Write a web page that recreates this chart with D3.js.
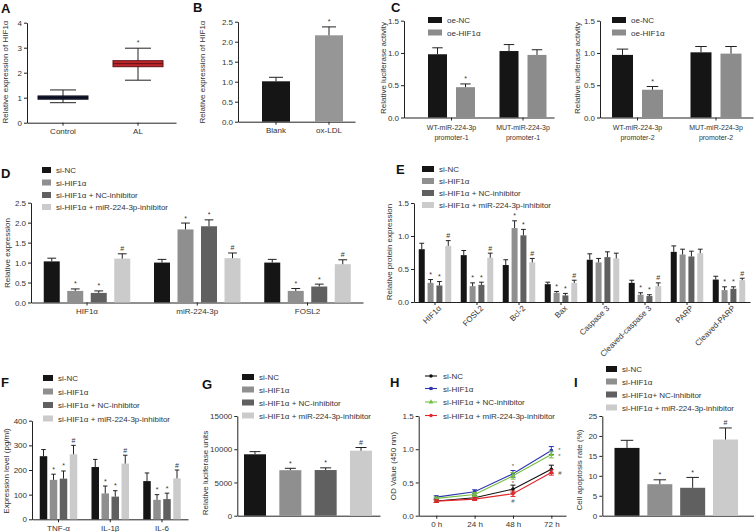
<!DOCTYPE html>
<html><head><meta charset="utf-8">
<script src="https://cdn.jsdelivr.net/npm/d3@7"></script>
<style>body{margin:0;background:#fff}svg{display:block}</style>
</head><body>
<script>
const FONT = "Liberation Sans, Arial, Helvetica, sans-serif";

// ---------------- DATA ----------------
// Panel A (box plot)
const aGroups = ["Control", "AL"];
const aMin = [0.80, 1.70];
const aQ1 = [0.94, 2.24];
const aMed = [1.00, 2.36];
const aQ3 = [1.07, 2.48];
const aMax = [1.31, 2.98];
const aMarks = ["", "*"];
const aTicks = [0, 1, 2, 3, 4];

// Panel B
const bCats = ["Blank", "ox-LDL"];
const bMeans = [1.01, 2.16];
const bErr = [0.10, 0.21];
const bMarks = ["", "*"];
const bTicks = [0, 0.5, 1.0, 1.5, 2.0, 2.5];

// Panel C
const cSeries = ["oe-NC", "oe-HIF1α"];
const c1Groups = ["WT-miR-224-3p|promoter-1", "MUT-miR-224-3p|promoter-1"];
const c2Groups = ["WT-miR-224-3p|promoter-2", "MUT-miR-224-3p|promoter-2"];
const c1NC = [0.98, 1.03];  const c1NCErr = [0.10, 0.10];
const c1HIF = [0.47, 0.97]; const c1HIFErr = [0.05, 0.08];
const c2NC = [0.97, 1.01];  const c2NCErr = [0.09, 0.09];
const c2HIF = [0.43, 0.99]; const c2HIFErr = [0.05, 0.11];
const c1Marks = [["", ""], ["*", ""]];
const c2Marks = [["", ""], ["*", ""]];
const cTicks = [0, 0.5, 1.0, 1.5];

// Four-group series names
const siSeries = ["si-NC", "si-HIF1α", "si-HIF1α + NC-inhibitor", "si-HIF1α + miR-224-3p-inhibitor"];
const iSeries = ["si-NC", "si-HIF1α", "si-HIF1α+ NC-inhibitor", "si-HIF1α + miR-224-3p-inhibitor"];

// Panel D
const dGroups = ["HIF1α", "miR-224-3p", "FOSL2"];
const dNC = [1.03, 1.00, 1.00];     const dNCErr = [0.08, 0.08, 0.08];
const dHIF = [0.29, 1.83, 0.29];    const dHIFErr = [0.05, 0.16, 0.06];
const dNCinh = [0.24, 1.91, 0.40];  const dNCinhErr = [0.05, 0.16, 0.06];
const dMiR = [1.10, 1.11, 0.96];    const dMiRErr = [0.12, 0.13, 0.11];
const dMarks = [["", "", ""], ["*", "*", "*"], ["*", "*", "*"], ["#", "#", "#"]];
const dTicks = [0, 0.5, 1.0, 1.5, 2.0, 2.5];

// Panel E
const eGroups = ["HIF1α", "FOSL2", "Bcl-2", "Bax", "Caspase 3", "Cleaved-caspase 3", "PARP", "Cleaved-PARP"];
const eNC = [0.80, 0.71, 0.56, 0.27, 0.64, 0.29, 0.76, 0.34];
const eNCErr = [0.09, 0.07, 0.08, 0.03, 0.09, 0.04, 0.09, 0.05];
const eHIF = [0.29, 0.24, 1.12, 0.14, 0.60, 0.11, 0.72, 0.18];
const eHIFErr = [0.05, 0.05, 0.11, 0.02, 0.06, 0.03, 0.08, 0.05];
const eNCinh = [0.25, 0.26, 1.01, 0.10, 0.68, 0.09, 0.69, 0.20];
const eNCinhErr = [0.06, 0.04, 0.09, 0.03, 0.08, 0.02, 0.08, 0.03];
const eMiR = [0.85, 0.67, 0.60, 0.29, 0.66, 0.24, 0.74, 0.33];
const eMiRErr = [0.08, 0.07, 0.06, 0.04, 0.08, 0.05, 0.06, 0.03];
const eMarks = [
  ["", "", "", "", "", "", "", ""],
  ["*", "*", "*", "*", "", "*", "", "*"],
  ["*", "*", "*", "*", "", "*", "", "*"],
  ["#", "#", "#", "#", "", "#", "", "#"]
];
const eTicks = [0, 0.5, 1.0, 1.5];

// Panel F
const fGroups = ["TNF-α", "IL-1β", "IL-6"];
const fNC = [256, 212, 155];    const fNCErr = [27, 31, 33];
const fHIF = [160, 105, 79];    const fHIFErr = [23, 30, 21];
const fNCinh = [165, 92, 82];   const fNCinhErr = [31, 24, 24];
const fMiR = [264, 226, 166];   const fMiRErr = [36, 34, 34];
const fMarks = [["", "", ""], ["*", "*", "*"], ["*", "*", "*"], ["#", "#", "#"]];
const fTicks = [0, 100, 200, 300, 400];

// Panel G
const gVals = [9240, 6850, 6870, 9780];
const gErr = [400, 280, 330, 480];
const gMarks = ["", "*", "*", "#"];
const gTicks = [0, 5000, 10000, 15000];

// Panel H
const hTimes = ["0 h", "24 h", "48 h", "72 h"];
const hNC = [0.22, 0.27, 0.40, 0.70];     const hNCErr = [0.02, 0.03, 0.06, 0.06];
const hHIF = [0.28, 0.36, 0.63, 0.98];    const hHIFErr = [0.02, 0.03, 0.05, 0.06];
const hNCinh = [0.26, 0.32, 0.60, 0.92];  const hNCinhErr = [0.02, 0.03, 0.05, 0.05];
const hMiR = [0.22, 0.25, 0.33, 0.65];    const hMiRErr = [0.02, 0.02, 0.04, 0.04];
const hNoteTime = ["48 h", "48 h", "48 h", "72 h", "72 h", "72 h"];
const hNoteVal = [0.76, 0.50, 0.23, 1.00, 0.90, 0.65];
const hNoteText = ["*", "*", "#", "*", "*", "#"];
const hTicks = [0, 0.5, 1.0, 1.5];

// Panel I
const iVals = [17.0, 7.9, 7.0, 19.1];
const iErr = [1.9, 1.1, 2.6, 2.9];
const iMarks = ["", "*", "*", "#"];
const iTicks = [0, 5, 10, 15, 20, 25];

// ---------------- STYLE ----------------
const C4 = ["#151515", "#8f8f8f", "#606060", "#cbcbcb"];
const H4 = ["#111111", "#2e35b0", "#74c043", "#e3262b"];
const INK = "#222";
const TXT = "#333";

const svg = d3.select("body").append("svg")
  .attr("width", 754).attr("height", 532)
  .style("font-family", FONT);

// ---------------- HELPERS ----------------
function bandFromCenters(domain, r0, r1, c0, cN, bw) {
  const n = domain.length, W = r1 - r0;
  const step = (cN - c0) / (n - 1);
  const pi = 1 - bw / step;
  const po = Math.max(0, (W / step - n + pi) / 2);
  const s = W / (n - pi + 2 * po);
  const denom = W - s * (n - pi);
  const a = denom > 0.01 ? Math.min(1, Math.max(0, ((c0 - bw / 2) - r0) / denom)) : 0.5;
  return d3.scaleBand().domain(domain).range([r0, r1])
    .paddingInner(pi).paddingOuter(po).align(a);
}
function innerScale(n, span, barW) {
  const step = (span - barW) / (n - 1);
  return d3.scaleBand().domain(d3.range(n)).range([-span / 2, span / 2])
    .paddingInner(1 - barW / step).paddingOuter(0);
}
const mid = (s, k) => s(k) + s.bandwidth() / 2;

function styleAxis(ax, fs) {
  ax.select(".domain").attr("stroke", INK).attr("stroke-width", 1);
  ax.selectAll(".tick line").attr("stroke", INK);
  ax.selectAll(".tick text").attr("font-size", fs || 8).attr("fill", TXT).attr("font-family", FONT);
}
function yAxis(x, y, ticks, fmt) {
  const ax = svg.append("g").attr("transform", `translate(${x},0)`)
    .call(d3.axisLeft(y).tickValues(ticks).tickSize(3).tickSizeOuter(0).tickPadding(2).tickFormat(fmt));
  styleAxis(ax);
  return ax;
}
function xAxis(y0, x, fmt) {
  const ax = svg.append("g").attr("transform", `translate(0,${y0})`)
    .call(d3.axisBottom(x).tickSize(3).tickSizeOuter(0).tickPadding(3).tickFormat(fmt || ""));
  styleAxis(ax);
  return ax;
}
function yTitle(t, x, cy) {
  svg.append("text").attr("transform", `translate(${x},${cy}) rotate(-90)`)
    .attr("text-anchor", "middle").attr("font-size", 8).attr("fill", TXT).text(t);
}
function panelLabel(t, x, y) {
  svg.append("text").attr("x", x).attr("y", y).attr("font-size", 13)
    .attr("font-weight", "bold").attr("fill", "#111").text(t);
}
function legendSq(x, ys, labels, colors, w, h) {
  const g = svg.append("g");
  labels.forEach((l, i) => {
    g.append("rect").attr("x", x).attr("y", ys[i] - h / 2).attr("width", w).attr("height", h).attr("fill", colors[i]);
    g.append("text").attr("x", x + w + 5).attr("y", ys[i] + 3).attr("font-size", 8).attr("fill", TXT).text(l);
  });
}
// bars with upward error bar + mark
function barRecs(recs, y, capFrac) {
  const g = svg.append("g");
  g.selectAll("rect").data(recs).enter().append("rect")
    .attr("x", d => d.x).attr("width", d => d.w)
    .attr("y", d => y(d.v)).attr("height", d => y(0) - y(d.v))
    .attr("fill", d => d.c);
  g.selectAll("line.ev").data(recs).enter().append("line").attr("class", "ev")
    .attr("x1", d => d.x + d.w / 2).attr("x2", d => d.x + d.w / 2)
    .attr("y1", d => y(d.v)).attr("y2", d => y(d.v + d.e))
    .attr("stroke", INK).attr("stroke-width", 1);
  g.selectAll("line.cap").data(recs).enter().append("line").attr("class", "cap")
    .attr("x1", d => d.x + d.w / 2 - d.w * capFrac / 2).attr("x2", d => d.x + d.w / 2 + d.w * capFrac / 2)
    .attr("y1", d => y(d.v + d.e)).attr("y2", d => y(d.v + d.e))
    .attr("stroke", INK).attr("stroke-width", 1);
  g.selectAll("text").data(recs.filter(d => d.m)).enter().append("text")
    .attr("x", d => d.x + d.w / 2).attr("y", d => y(d.v + d.e) - 2.5)
    .attr("text-anchor", "middle").attr("font-size", 7).attr("fill", TXT).text(d => d.m);
}
function groupedRecs(groups, outer, inner, vals, errs, marks, colors) {
  const recs = [];
  vals.forEach((sv, si) => groups.forEach((gname, gi) => {
    recs.push({ x: mid(outer, gname) + inner(si), w: inner.bandwidth(), v: sv[gi], e: errs[si][gi], m: marks[si][gi], c: colors[si] });
  }));
  return recs;
}

// ---------------- PANEL A ----------------
panelLabel("A", 1, 13);
{
  const y = d3.scaleLinear().domain([0, 4]).range([122.7, 22.7]);
  const x = bandFromCenters(aGroups, 27, 176, 63, 138, 50);
  yAxis(27, y, aTicks, d3.format("d"));
  xAxis(122.7, x, d => d);
  yTitle("Relative expression of HIF1α", 8, 72);
  const fills = ["#1c2240", "#c0272d"], strokes = ["#0d1020", "#5e1013"], medc = ["#0a0c18", "#6e1216"];
  const g = svg.append("g");
  aGroups.forEach((k, i) => {
    const cx = mid(x, k), w = x.bandwidth(), cap = 26;
    g.append("line").attr("x1", cx).attr("x2", cx).attr("y1", y(aMax[i])).attr("y2", y(aMin[i])).attr("stroke", INK);
    g.append("line").attr("x1", cx - cap / 2).attr("x2", cx + cap / 2).attr("y1", y(aMax[i])).attr("y2", y(aMax[i])).attr("stroke", INK);
    g.append("line").attr("x1", cx - cap / 2).attr("x2", cx + cap / 2).attr("y1", y(aMin[i])).attr("y2", y(aMin[i])).attr("stroke", INK);
    g.append("rect").attr("x", x(k)).attr("width", w).attr("y", y(aQ3[i])).attr("height", y(aQ1[i]) - y(aQ3[i]))
      .attr("fill", fills[i]).attr("stroke", strokes[i]).attr("stroke-width", 1);
    g.append("line").attr("x1", x(k)).attr("x2", x(k) + w).attr("y1", y(aMed[i])).attr("y2", y(aMed[i])).attr("stroke", medc[i]).attr("stroke-width", 1.2);
    if (aMarks[i]) g.append("text").attr("x", cx).attr("y", y(aMax[i]) - 3).attr("text-anchor", "middle").attr("font-size", 7).attr("fill", TXT).text(aMarks[i]);
  });
}

// ---------------- PANEL B ----------------
panelLabel("B", 193, 12);
{
  const y = d3.scaleLinear().domain([0, 2.5]).range([121.7, 21.7]);
  const x = bandFromCenters(bCats, 238, 355, 276, 329, 28);
  yAxis(238, y, bTicks, d3.format(".1f"));
  xAxis(121.7, x, d => d);
  yTitle("Relative expression of HIF1α", 205, 72);
  const bCol = ["#151515", "#969696"];
  barRecs(bCats.map((k, i) => ({ x: x(k), w: x.bandwidth(), v: bMeans[i], e: bErr[i], m: bMarks[i], c: bCol[i] })), y, 0.5);
}

// ---------------- PANEL C ----------------
panelLabel("C", 391, 12);
function cPanel(x0, x1, cA, cB, groups, nc, ncE, hif, hifE, marks, span, bw, titleX, legX) {
  const y = d3.scaleLinear().domain([0, 1.5]).range([117.5, 20.7]);
  const x = bandFromCenters(groups, x0, x1, cA, cB, 30);
  yAxis(x0, y, cTicks, d3.format(".1f"));
  const ax = xAxis(117.5, x, "");
  ax.selectAll(".tick").each(function (d) {
    const parts = d.split("|");
    const t = d3.select(this).append("text").attr("y", 12).attr("text-anchor", "middle")
      .attr("font-size", 7).attr("fill", TXT).attr("font-family", FONT);
    t.append("tspan").attr("x", 0).attr("dy", 0).text(parts[0]);
    t.append("tspan").attr("x", 0).attr("dy", 10).text(parts[1]);
  });
  yTitle("Relative luciferase activity", titleX, 68);
  const inner = innerScale(2, span, bw);
  barRecs(groupedRecs(groups, x, inner, [nc, hif], [ncE, hifE], marks, ["#151515", "#8c8c8c"]), y, 0.55);
  legendSq(legX, [20, 32.5], cSeries, ["#151515", "#8c8c8c"], 14, 6);
}
cPanel(404, 554, 451.5, 523, c1Groups, c1NC, c1NCErr, c1HIF, c1HIFErr, c1Marks, 47, 19, 386, 428);
cPanel(600, 753, 637.5, 716, c2Groups, c2NC, c2NCErr, c2HIF, c2HIFErr, c2Marks, 51, 21, 580, 612);

// ---------------- PANEL D ----------------
panelLabel("D", 1, 178);
{
  const y = d3.scaleLinear().domain([0, 2.5]).range([302.5, 202.7]);
  const x = bandFromCenters(dGroups, 31, 363, 87, 307.5, 55);
  yAxis(31, y, dTicks, d3.format(".1f"));
  xAxis(302.5, x, d => d);
  yTitle("Relative expression", 10, 253);
  const inner = innerScale(4, 86.5, 16);
  barRecs(groupedRecs(dGroups, x, inner, [dNC, dHIF, dNCinh, dMiR], [dNCErr, dHIFErr, dNCinhErr, dMiRErr], dMarks, C4), y, 0.55);
  legendSq(42, [170, 182.5, 195, 207], siSeries, C4, 9, 6);
}

// ---------------- PANEL E ----------------
panelLabel("E", 396, 174);
{
  const y = d3.scaleLinear().domain([0, 1.5]).range([302, 203]);
  const x = bandFromCenters(eGroups, 414, 750, 435, 729, 21);
  yAxis(414, y, eTicks, d3.format(".1f"));
  const ax = xAxis(302, x, d => d);
  ax.selectAll(".tick text").attr("text-anchor", "end").attr("transform", "translate(2,2) rotate(-45)")
    .attr("dy", "0.35em").attr("y", 4).attr("font-size", 8);
  yTitle("Relative protein expression", 392, 252);
  const inner = innerScale(4, 32.5, 6);
  barRecs(groupedRecs(eGroups, x, inner, [eNC, eHIF, eNCinh, eMiR], [eNCErr, eHIFErr, eNCinhErr, eMiRErr], eMarks, C4), y, 0.8);
  legendSq(422, [169, 181, 193, 205], siSeries, C4, 12, 6);
}

// ---------------- PANEL F ----------------
panelLabel("F", 1, 387);
{
  const y = d3.scaleLinear().domain([0, 400]).range([519.3, 420.7]);
  const x = bandFromCenters(fGroups, 32, 188, 58.5, 162, 26);
  yAxis(32, y, fTicks, d3.format("d"));
  xAxis(519.3, x, d => d);
  yTitle("Expression level (pg/ml)", 9, 471);
  const inner = innerScale(4, 37.5, 7.5);
  barRecs(groupedRecs(fGroups, x, inner, [fNC, fHIF, fNCinh, fMiR], [fNCErr, fHIFErr, fNCinhErr, fMiRErr], fMarks, C4), y, 0.6);
  legendSq(43, [378, 391.5, 405, 418.5], siSeries, C4, 10, 6);
}

// ---------------- PANEL G ----------------
panelLabel("G", 202, 389);
{
  const y = d3.scaleLinear().domain([0, 15000]).range([515.7, 416]);
  const x = bandFromCenters(siSeries, 237.3, 380, 255, 361, 22);
  yAxis(237.3, y, gTicks, d3.format("d"));
  xAxis(515.7, x, "").selectAll(".tick line").remove();
  yTitle("Relative luciferase units", 208, 473);
  barRecs(siSeries.map((k, i) => ({ x: x(k), w: x.bandwidth(), v: gVals[i], e: gErr[i], m: gMarks[i], c: C4[i] })), y, 0.5);
  legendSq(242, [377, 389.5, 402.5, 415.5], siSeries, C4, 12, 6);
}

// ---------------- PANEL H ----------------
panelLabel("H", 390, 387);
{
  const y = d3.scaleLinear().domain([0, 1.5]).range([515.7, 416]);
  const x = d3.scalePoint().domain(hTimes).range([418.7, 566]).padding(0.42).align(0.545);
  yAxis(418.7, y, hTicks, d3.format(".1f"));
  xAxis(515.7, x, d => d);
  yTitle("OD Value (450 nm)", 396, 466);
  const series = [hNC, hHIF, hNCinh, hMiR], errs = [hNCErr, hHIFErr, hNCinhErr, hMiRErr];
  const shapes = [d3.symbolCircle, d3.symbolSquare, d3.symbolTriangle, d3.symbolCircle];
  const line = d3.line().x((d, i) => x(hTimes[i])).y(d => y(d));
  series.forEach((s, si) => {
    const g = svg.append("g");
    g.append("path").datum(s).attr("d", line).attr("fill", "none").attr("stroke", H4[si]).attr("stroke-width", 1.1);
    s.forEach((v, i) => {
      const cx = x(hTimes[i]);
      g.append("line").attr("x1", cx).attr("x2", cx).attr("y1", y(v - errs[si][i])).attr("y2", y(v + errs[si][i])).attr("stroke", H4[si]);
      g.append("line").attr("x1", cx - 2.5).attr("x2", cx + 2.5).attr("y1", y(v + errs[si][i])).attr("y2", y(v + errs[si][i])).attr("stroke", H4[si]);
      g.append("line").attr("x1", cx - 2.5).attr("x2", cx + 2.5).attr("y1", y(v - errs[si][i])).attr("y2", y(v - errs[si][i])).attr("stroke", H4[si]);
      g.append("path").attr("transform", `translate(${cx},${y(v)})`).attr("d", d3.symbol(shapes[si], 10)()).attr("fill", H4[si]);
    });
  });
  hNoteText.forEach((t, i) => {
    const last = hNoteTime[i] === hTimes[hTimes.length - 1];
    svg.append("text").attr("x", x(hNoteTime[i]) + (last ? 7 : 0)).attr("y", y(hNoteVal[i]) + 2.5)
      .attr("text-anchor", last ? "start" : "middle").attr("font-size", 6).attr("fill", "#555").text(t);
  });
  const lg = svg.append("g");
  const ly = [376, 388.5, 402, 415.5];
  siSeries.forEach((l, i) => {
    lg.append("line").attr("x1", 425).attr("x2", 437).attr("y1", ly[i]).attr("y2", ly[i]).attr("stroke", H4[i]).attr("stroke-width", 1.1);
    lg.append("path").attr("transform", `translate(431,${ly[i]})`).attr("d", d3.symbol(shapes[i], 10)()).attr("fill", H4[i]);
    lg.append("text").attr("x", 443).attr("y", ly[i] + 3).attr("font-size", 8).attr("fill", TXT).text(l);
  });
}

// ---------------- PANEL I ----------------
panelLabel("I", 574, 387);
{
  const y = d3.scaleLinear().domain([0, 25]).range([515.7, 416]);
  const x = bandFromCenters(iSeries, 602.3, 754, 627, 725.5, 25);
  yAxis(602.3, y, iTicks, d3.format("d"));
  xAxis(515.7, x, "").selectAll(".tick line").remove();
  yTitle("Cell apoptosis rate (%)", 582, 470);
  barRecs(iSeries.map((k, i) => ({ x: x(k), w: x.bandwidth(), v: iVals[i], e: iErr[i], m: iMarks[i], c: C4[i] })), y, 0.5);
  legendSq(606, [369, 381.5, 394.5, 407.5], iSeries, C4, 11, 6);
}
</script>
</body></html>
